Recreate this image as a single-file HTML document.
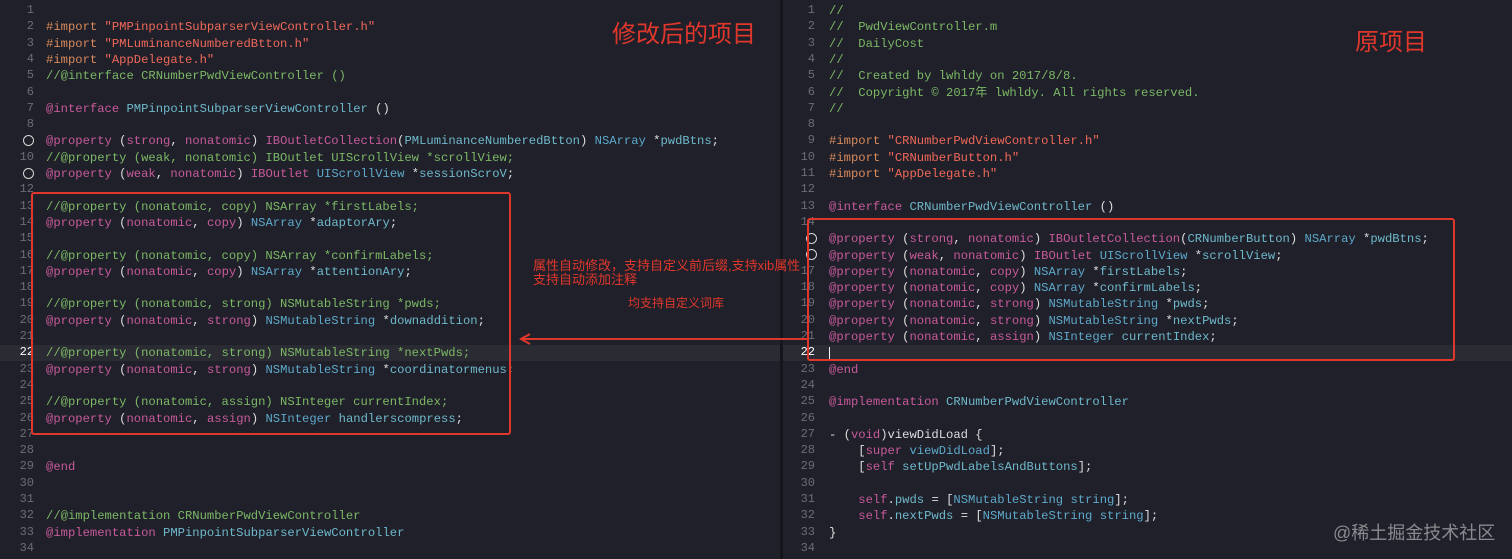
<!DOCTYPE html>
<html><head><meta charset="utf-8"><style>
body{margin:0;width:1512px;height:559px;overflow:hidden;background:#1f2029;position:relative;font-family:"Liberation Mono",monospace}
.pane{position:absolute;top:0;height:559px;overflow:hidden;background:#1f2029}
.ln{position:absolute;height:16.3px;line-height:16.3px;font-size:12.2px;white-space:pre;color:#dfdfe0}
.n{position:absolute;width:24px;text-align:right;color:#6c6c75;font-size:12px}
.cur{position:absolute;left:0;right:0;height:16.3px;background:#2a2b33}
.k{color:#c85a9c}.t{color:#5ea9cb}.s{color:#f0685a}.c{color:#7cb866}.p{color:#d98a5c}.v{color:#6fb9cc}
.o{position:absolute;width:9px;height:9px;border:1.3px solid #d8d8d8;border-radius:50%}
.red{position:absolute;border:2px solid #e0372c;border-radius:3px}
.cn{position:absolute;color:#e0372c;font-family:"Liberation Sans","Noto Sans CJK SC",sans-serif;white-space:nowrap}
</style></head><body>
<div class="pane" style="left:0;width:780px">
<div class="cur" style="top:345px"></div>
<div class="o" style="left:23px;top:135px"></div>
<div class="o" style="left:23px;top:168px"></div>
</div>
<div class="pane" style="left:783px;width:729px">
<div class="cur" style="top:345px"></div>
<div class="o" style="left:23px;top:233px"></div>
<div class="o" style="left:23px;top:249px"></div>
</div>
<div style="position:absolute;left:780px;top:0;width:3px;height:559px;background:#15161c"></div>

<div style="position:absolute;left:0;top:3px">
<div class="n" style="left:10px;top:0">1</div>
<div class="n" style="left:10px;top:16.3px">2</div>
<div class="n" style="left:10px;top:32.6px">3</div>
<div class="n" style="left:10px;top:48.9px">4</div>
<div class="n" style="left:10px;top:65.2px">5</div>
<div class="n" style="left:10px;top:81.5px">6</div>
<div class="n" style="left:10px;top:97.8px">7</div>
<div class="n" style="left:10px;top:114.1px">8</div>
<div class="n" style="left:10px;top:146.7px">10</div>
<div class="n" style="left:10px;top:179.3px">12</div>
<div class="n" style="left:10px;top:195.6px">13</div>
<div class="n" style="left:10px;top:211.9px">14</div>
<div class="n" style="left:10px;top:228.2px">15</div>
<div class="n" style="left:10px;top:244.5px">16</div>
<div class="n" style="left:10px;top:260.8px">17</div>
<div class="n" style="left:10px;top:277.1px">18</div>
<div class="n" style="left:10px;top:293.4px">19</div>
<div class="n" style="left:10px;top:309.7px">20</div>
<div class="n" style="left:10px;top:326px">21</div>
<div class="n" style="left:10px;top:342.3px;color:#fff">22</div>
<div class="n" style="left:10px;top:358.6px">23</div>
<div class="n" style="left:10px;top:374.9px">24</div>
<div class="n" style="left:10px;top:391.2px">25</div>
<div class="n" style="left:10px;top:407.5px">26</div>
<div class="n" style="left:10px;top:423.8px">27</div>
<div class="n" style="left:10px;top:440.1px">28</div>
<div class="n" style="left:10px;top:456.4px">29</div>
<div class="n" style="left:10px;top:472.7px">30</div>
<div class="n" style="left:10px;top:489px">31</div>
<div class="n" style="left:10px;top:505.3px">32</div>
<div class="n" style="left:10px;top:521.6px">33</div>
<div class="n" style="left:10px;top:537.9px">34</div>

<div class="ln" style="left:46px;top:16.3px"><span class="p">#import</span> <span class="s">"PMPinpointSubparserViewController.h"</span></div>
<div class="ln" style="left:46px;top:32.6px"><span class="p">#import</span> <span class="s">"PMLuminanceNumberedBtton.h"</span></div>
<div class="ln" style="left:46px;top:48.9px"><span class="p">#import</span> <span class="s">"AppDelegate.h"</span></div>
<div class="ln c" style="left:46px;top:65.2px">//@interface CRNumberPwdViewController ()</div>
<div class="ln" style="left:46px;top:97.8px"><span class="k">@interface</span> <span class="v">PMPinpointSubparserViewController</span> ()</div>
<div class="ln" style="left:46px;top:130.4px"><span class="k">@property</span> (<span class="k">strong</span>, <span class="k">nonatomic</span>) <span class="k">IBOutletCollection</span>(<span class="v">PMLuminanceNumberedBtton</span>) <span class="t">NSArray</span> *<span class="v">pwdBtns</span>;</div>
<div class="ln c" style="left:46px;top:146.7px">//@property (weak, nonatomic) IBOutlet UIScrollView *scrollView;</div>
<div class="ln" style="left:46px;top:163px"><span class="k">@property</span> (<span class="k">weak</span>, <span class="k">nonatomic</span>) <span class="k">IBOutlet</span> <span class="t">UIScrollView</span> *<span class="v">sessionScroV</span>;</div>
<div class="ln c" style="left:46px;top:195.6px">//@property (nonatomic, copy) NSArray *firstLabels;</div>
<div class="ln" style="left:46px;top:211.9px"><span class="k">@property</span> (<span class="k">nonatomic</span>, <span class="k">copy</span>) <span class="t">NSArray</span> *<span class="v">adaptorAry</span>;</div>
<div class="ln c" style="left:46px;top:244.5px">//@property (nonatomic, copy) NSArray *confirmLabels;</div>
<div class="ln" style="left:46px;top:260.8px"><span class="k">@property</span> (<span class="k">nonatomic</span>, <span class="k">copy</span>) <span class="t">NSArray</span> *<span class="v">attentionAry</span>;</div>
<div class="ln c" style="left:46px;top:293.4px">//@property (nonatomic, strong) NSMutableString *pwds;</div>
<div class="ln" style="left:46px;top:309.7px"><span class="k">@property</span> (<span class="k">nonatomic</span>, <span class="k">strong</span>) <span class="t">NSMutableString</span> *<span class="v">downaddition</span>;</div>
<div class="ln c" style="left:46px;top:342.3px">//@property (nonatomic, strong) NSMutableString *nextPwds;</div>
<div class="ln" style="left:46px;top:358.6px"><span class="k">@property</span> (<span class="k">nonatomic</span>, <span class="k">strong</span>) <span class="t">NSMutableString</span> *<span class="v">coordinatormenus</span>;</div>
<div class="ln c" style="left:46px;top:391.2px">//@property (nonatomic, assign) NSInteger currentIndex;</div>
<div class="ln" style="left:46px;top:407.5px"><span class="k">@property</span> (<span class="k">nonatomic</span>, <span class="k">assign</span>) <span class="t">NSInteger</span> <span class="v">handlerscompress</span>;</div>
<div class="ln k" style="left:46px;top:456.4px">@end</div>
<div class="ln c" style="left:46px;top:505.3px">//@implementation CRNumberPwdViewController</div>
<div class="ln" style="left:46px;top:521.6px"><span class="k">@implementation</span> <span class="v">PMPinpointSubparserViewController</span></div>
</div>

<div style="position:absolute;left:783px;top:3px">
<div class="n" style="left:8px;top:0">1</div>
<div class="n" style="left:8px;top:16.3px">2</div>
<div class="n" style="left:8px;top:32.6px">3</div>
<div class="n" style="left:8px;top:48.9px">4</div>
<div class="n" style="left:8px;top:65.2px">5</div>
<div class="n" style="left:8px;top:81.5px">6</div>
<div class="n" style="left:8px;top:97.8px">7</div>
<div class="n" style="left:8px;top:114.1px">8</div>
<div class="n" style="left:8px;top:130.4px">9</div>
<div class="n" style="left:8px;top:146.7px">10</div>
<div class="n" style="left:8px;top:163px">11</div>
<div class="n" style="left:8px;top:179.3px">12</div>
<div class="n" style="left:8px;top:195.6px">13</div>
<div class="n" style="left:8px;top:211.9px">14</div>
<div class="n" style="left:8px;top:260.8px">17</div>
<div class="n" style="left:8px;top:277.1px">18</div>
<div class="n" style="left:8px;top:293.4px">19</div>
<div class="n" style="left:8px;top:309.7px">20</div>
<div class="n" style="left:8px;top:326px">21</div>
<div class="n" style="left:8px;top:342.3px;color:#fff">22</div>
<div class="n" style="left:8px;top:358.6px">23</div>
<div class="n" style="left:8px;top:374.9px">24</div>
<div class="n" style="left:8px;top:391.2px">25</div>
<div class="n" style="left:8px;top:407.5px">26</div>
<div class="n" style="left:8px;top:423.8px">27</div>
<div class="n" style="left:8px;top:440.1px">28</div>
<div class="n" style="left:8px;top:456.4px">29</div>
<div class="n" style="left:8px;top:472.7px">30</div>
<div class="n" style="left:8px;top:489px">31</div>
<div class="n" style="left:8px;top:505.3px">32</div>
<div class="n" style="left:8px;top:521.6px">33</div>
<div class="n" style="left:8px;top:537.9px">34</div>

<div class="ln c" style="left:46px;top:0">//</div>
<div class="ln c" style="left:46px;top:16.3px">//  PwdViewController.m</div>
<div class="ln c" style="left:46px;top:32.6px">//  DailyCost</div>
<div class="ln c" style="left:46px;top:48.9px">//</div>
<div class="ln c" style="left:46px;top:65.2px">//  Created by lwhldy on 2017/8/8.</div>
<div class="ln c" style="left:46px;top:81.5px;font-family:'Liberation Mono','Noto Sans CJK SC',monospace">//  Copyright © 2017年 lwhldy. All rights reserved.</div>
<div class="ln c" style="left:46px;top:97.8px">//</div>
<div class="ln" style="left:46px;top:130.4px"><span class="p">#import</span> <span class="s">"CRNumberPwdViewController.h"</span></div>
<div class="ln" style="left:46px;top:146.7px"><span class="p">#import</span> <span class="s">"CRNumberButton.h"</span></div>
<div class="ln" style="left:46px;top:163px"><span class="p">#import</span> <span class="s">"AppDelegate.h"</span></div>
<div class="ln" style="left:46px;top:195.6px"><span class="k">@interface</span> <span class="v">CRNumberPwdViewController</span> ()</div>
<div class="ln" style="left:46px;top:228.2px"><span class="k">@property</span> (<span class="k">strong</span>, <span class="k">nonatomic</span>) <span class="k">IBOutletCollection</span>(<span class="v">CRNumberButton</span>) <span class="t">NSArray</span> *<span class="v">pwdBtns</span>;</div>
<div class="ln" style="left:46px;top:244.5px"><span class="k">@property</span> (<span class="k">weak</span>, <span class="k">nonatomic</span>) <span class="k">IBOutlet</span> <span class="t">UIScrollView</span> *<span class="v">scrollView</span>;</div>
<div class="ln" style="left:46px;top:260.8px"><span class="k">@property</span> (<span class="k">nonatomic</span>, <span class="k">copy</span>) <span class="t">NSArray</span> *<span class="v">firstLabels</span>;</div>
<div class="ln" style="left:46px;top:277.1px"><span class="k">@property</span> (<span class="k">nonatomic</span>, <span class="k">copy</span>) <span class="t">NSArray</span> *<span class="v">confirmLabels</span>;</div>
<div class="ln" style="left:46px;top:293.4px"><span class="k">@property</span> (<span class="k">nonatomic</span>, <span class="k">strong</span>) <span class="t">NSMutableString</span> *<span class="v">pwds</span>;</div>
<div class="ln" style="left:46px;top:309.7px"><span class="k">@property</span> (<span class="k">nonatomic</span>, <span class="k">strong</span>) <span class="t">NSMutableString</span> *<span class="v">nextPwds</span>;</div>
<div class="ln" style="left:46px;top:326px"><span class="k">@property</span> (<span class="k">nonatomic</span>, <span class="k">assign</span>) <span class="t">NSInteger</span> <span class="v">currentIndex</span>;</div>
<div style="position:absolute;left:46px;top:344px;width:1px;height:13px;background:#fff"></div>
<div class="ln k" style="left:46px;top:358.6px">@end</div>
<div class="ln" style="left:46px;top:391.2px"><span class="k">@implementation</span> <span class="v">CRNumberPwdViewController</span></div>
<div class="ln" style="left:46px;top:423.8px">- (<span class="k">void</span>)viewDidLoad {</div>
<div class="ln" style="left:46px;top:440.1px">    [<span class="k">super</span> <span class="t">viewDidLoad</span>];</div>
<div class="ln" style="left:46px;top:456.4px">    [<span class="k">self</span> <span class="v">setUpPwdLabelsAndButtons</span>];</div>
<div class="ln" style="left:46px;top:489px">    <span class="k">self</span>.<span class="v">pwds</span> = [<span class="t">NSMutableString</span> <span class="t">string</span>];</div>
<div class="ln" style="left:46px;top:505.3px">    <span class="k">self</span>.<span class="v">nextPwds</span> = [<span class="t">NSMutableString</span> <span class="t">string</span>];</div>
<div class="ln" style="left:46px;top:521.6px">}</div>
</div>

<div class="red" style="left:31px;top:192px;width:476px;height:239px"></div>
<div class="red" style="left:807px;top:218px;width:644px;height:139px"></div>
<svg style="position:absolute;left:0;top:0" width="1512" height="559">
<line x1="807" y1="339" x2="522" y2="339" stroke="#e0372c" stroke-width="2"/>
<polyline points="530,334 521,339 530,344" fill="none" stroke="#e0372c" stroke-width="2"/>
</svg>
<div class="cn" style="left:612px;top:14px;font-size:24px">修改后的项目</div>
<div class="cn" style="left:1355px;top:22px;font-size:24px">原项目</div>
<div class="cn" style="left:533px;top:259px;font-size:13px;line-height:14px">属性自动修改，支持自定义前后缀,支持xib属性<br>支持自动添加注释</div>
<div class="cn" style="left:628px;top:294px;font-size:12px">均支持自定义词库</div>
<div style="position:absolute;left:1333px;top:519px;font-size:18px;color:#8a8b90;font-family:'Liberation Sans','Noto Sans CJK SC',sans-serif">@稀土掘金技术社区</div>
</body></html>
